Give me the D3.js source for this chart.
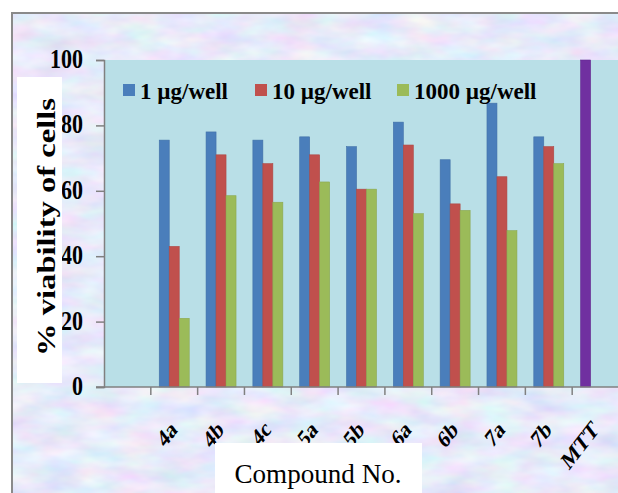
<!DOCTYPE html>
<html>
<head>
<meta charset="utf-8">
<script src="https://cdn.jsdelivr.net/npm/d3@7"></script>
<style>
  body { margin: 0; background: #fff; }
</style>
</head>
<body>
<div id="chart"></div>
<script>
// chart values
const categories = ['', '4a', '4b', '4c', '5a', '5b', '6a', '6b', '7a', '7b', 'MTT'];
const seriesNames = ['1 µg/well', '10 µg/well', '1000 µg/well'];
const dose1 = [null, 75.5, 78, 75.5, 76.5, 73.5, 81, 69.5, 86.8, 76.5, null];
const dose10 = [null, 43, 71, 68.3, 71, 60.5, 74, 56, 64.3, 73.5, null];
const dose1000 = [null, 21, 58.5, 56.5, 62.7, 60.5, 53, 54, 47.8, 68.3, null];
const controlName = 'MTT';
const controlValue = 100;
const yTicks = [0, 20, 40, 60, 80, 100];

const seriesColors = ['#4a7ebb', '#c0504d', '#9bbb59'];
const controlColor = '#7030a0';
const serif = 'Liberation Serif';

const W = 618, H = 493;
const margin = {top: 60, right: -1, bottom: 106, left: 104};

const svg = d3.select('#chart').append('svg')
    .attr('width', W)
    .attr('height', H);

// textured background
const defs = svg.append('defs');
const tex = defs.append('filter').attr('id', 'tex')
    .attr('x', 0).attr('y', 0).attr('width', 1).attr('height', 1);
tex.append('feTurbulence')
    .attr('type', 'fractalNoise')
    .attr('baseFrequency', '0.025 0.06')
    .attr('numOctaves', 3)
    .attr('seed', 7);
tex.append('feColorMatrix')
    .attr('type', 'matrix')
    .attr('values', '0.4 0 0 0 0.6  0 0.35 0 0 0.65  0 0 0.18 0 0.86  0 0 0 0 1');

svg.append('rect')
    .attr('x', 12).attr('y', 13)
    .attr('width', W - 12).attr('height', H - 13)
    .attr('filter', 'url(#tex)');
svg.append('rect')
    .attr('x', 12).attr('y', 13)
    .attr('width', W + 10).attr('height', H + 10)
    .attr('fill', 'none')
    .attr('stroke', '#8a8a8a')
    .attr('stroke-width', 2);

const plotW = W - margin.left - margin.right;
const plotH = H - margin.top - margin.bottom;

const x = d3.scaleBand()
    .domain(categories)
    .range([margin.left, margin.left + plotW])
    .padding(0);

const xSub = d3.scaleBand()
    .domain(seriesNames)
    .range([x.bandwidth() * 0.18, x.bandwidth() * 0.82])
    .padding(0);

const y = d3.scaleLinear()
    .domain([0, 100])
    .range([margin.top + plotH, margin.top]);

// plot area
svg.append('rect')
    .attr('x', margin.left + 1)
    .attr('y', margin.top)
    .attr('width', plotW)
    .attr('height', plotH)
    .attr('fill', '#b9dfe7');

// bars
const allSeries = [dose1, dose10, dose1000];
const rows = [];
categories.forEach((c, i) => {
    allSeries.forEach((s, k) => {
        if (s[i] != null) rows.push({cat: c, key: seriesNames[k], value: s[i], color: seriesColors[k]});
    });
});
rows.push({cat: controlName, key: seriesNames[0], value: controlValue, color: controlColor});

svg.selectAll('.bar')
    .data(rows)
    .enter()
    .append('rect')
    .attr('class', 'bar')
    .attr('x', d => x(d.cat) + xSub(d.key))
    .attr('y', d => y(d.value))
    .attr('width', xSub.bandwidth())
    .attr('height', d => y(0) - y(d.value))
    .attr('fill', d => d.color)
    .attr('stroke', d => d3.color(d.color).darker(0.3))
    .attr('stroke-width', 0.6);

// y axis
const yAxis = svg.append('g')
    .attr('transform', `translate(${margin.left},0)`)
    .call(d3.axisLeft(y).tickValues(yTicks).tickSize(8).tickFormat(''));
yAxis.select('.domain').attr('stroke', '#808080').attr('stroke-width', 1.5);
yAxis.selectAll('.tick line').attr('stroke', '#808080').attr('stroke-width', 1.5);

// taller tick labels, like the stretched original
svg.selectAll('.ylabel')
    .data(yTicks)
    .enter()
    .append('text')
    .attr('class', 'ylabel')
    .attr('text-anchor', 'end')
    .style('font-family', serif)
    .attr('font-weight', 'bold')
    .attr('font-size', 22)
    .attr('transform', d => `translate(83,${y(d)}) scale(1,1.22)`)
    .attr('dy', '0.3em')
    .text(d => d);

// x axis
const xAxis = svg.append('g')
    .attr('transform', `translate(0,${y(0)})`);
xAxis.append('line')
    .attr('x1', margin.left - 8)
    .attr('x2', W)
    .attr('stroke', '#808080')
    .attr('stroke-width', 1.5);
xAxis.selectAll('.xtick')
    .data(categories.slice(1))
    .enter()
    .append('line')
    .attr('class', 'xtick')
    .attr('x1', d => x(d))
    .attr('x2', d => x(d))
    .attr('y1', 0)
    .attr('y2', 8)
    .attr('stroke', '#808080')
    .attr('stroke-width', 1.5);
xAxis.selectAll('.xlabel')
    .data(categories.filter(d => d !== ''))
    .enter()
    .append('text')
    .attr('class', 'xlabel')
    .attr('text-anchor', 'end')
    .style('font-family', serif)
    .attr('font-weight', 'bold')
    .attr('font-size', 19)
    .attr('transform', d => `translate(${x(d) + x.bandwidth() / 2 + 4},44) scale(1,1.3) rotate(-45)`)
    .text(d => d);

// axis titles
svg.append('rect')
    .attr('x', 17).attr('y', 77)
    .attr('width', 45).attr('height', 306)
    .attr('fill', '#fff');
svg.append('text')
    .attr('transform', 'translate(55,227) rotate(-90)')
    .attr('text-anchor', 'middle')
    .style('font-family', serif)
    .attr('font-weight', 'bold')
    .attr('font-size', 26)
    .attr('textLength', 258)
    .attr('lengthAdjust', 'spacingAndGlyphs')
    .text('% viability of cells');

svg.append('rect')
    .attr('x', 215).attr('y', 443)
    .attr('width', 207).attr('height', 50)
    .attr('fill', '#fff');
svg.append('text')
    .attr('x', 318).attr('y', 483)
    .attr('text-anchor', 'middle')
    .style('font-family', serif)
    .attr('font-size', 28)
    .attr('textLength', 167)
    .attr('lengthAdjust', 'spacingAndGlyphs')
    .text('Compound No.');

// legend
const legendX = [123, 255, 397];
const legend = svg.selectAll('.legend')
    .data(seriesNames)
    .enter()
    .append('g')
    .attr('class', 'legend')
    .attr('transform', (d, i) => `translate(${legendX[i]},84)`);
legend.append('rect')
    .attr('width', 12)
    .attr('height', 12)
    .attr('fill', (d, i) => seriesColors[i]);
legend.append('text')
    .attr('x', 17)
    .attr('y', 15)
    .style('font-family', serif)
    .attr('font-weight', 'bold')
    .attr('font-size', 23)
    .text(d => d);
</script>
</body>
</html>
